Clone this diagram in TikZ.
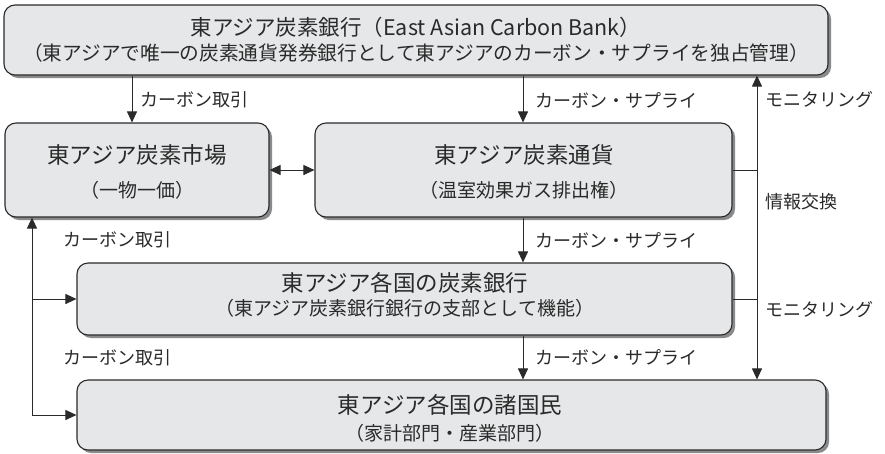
\documentclass[tikz,border=0pt]{standalone}
\usepackage{fontspec}
\setmainfont{Noto Sans CJK JP}
\usetikzlibrary{arrows.meta,shadows}
\definecolor{boxfill}{HTML}{E6E7E8}
\definecolor{shade}{HTML}{8A8A8A}
\definecolor{ink}{HTML}{2A2A2A}
\begin{document}
\begin{tikzpicture}[x=1pt,y=-1pt,
 box/.style={draw=ink, line width=1.1pt, fill=boxfill, rounded corners=11pt, inner sep=0pt,
   drop shadow={shadow xshift=3pt, shadow yshift=-3pt, fill=shade, opacity=1}},
 tip/.tip={Triangle[length=11pt,width=10pt]},
 arr/.style={draw=ink, line width=0.9pt, -tip},
 ln/.style={draw=ink, line width=0.9pt},
 ttl/.style={text=ink, font=\fontsize{22.5}{24}\selectfont, inner sep=0pt},
 subt/.style={text=ink, font=\fontsize{19}{21}\selectfont, inner sep=0pt},
 lbl/.style={text=ink, font=\fontsize{18}{20}\selectfont, inner sep=0pt, anchor=west}]
\useasboundingbox (0,0) rectangle (885,453);

% boxes
\node[box, minimum width=824pt, minimum height=70pt] (top) at (416,40) {};
\node[box, minimum width=264pt, minimum height=94pt] (mkt) at (137,170) {};
\node[box, minimum width=417pt, minimum height=94pt] (cur) at (523.5,170) {};
\node[box, minimum width=655pt, minimum height=72pt] (nbk) at (404.5,299) {};
\node[box, minimum width=749pt, minimum height=70pt] (ppl) at (451.5,415) {};

% box texts
\node[ttl, font=\fontsize{21.5}{23}\selectfont] (topT) at (416,27) {東アジア炭素銀行（East Asian Carbon Bank）};
\node[subt, font=\fontsize{19.7}{21}\selectfont] (topS) at (416,53) {（東アジアで唯一の炭素通貨発券銀行として東アジアのカーボン・サプライを独占管理）};
\node[ttl] (mktT) at (137,155) {東アジア炭素市場};
\node[subt] (mktS) at (137,190) {（一物一価）};
\node[ttl] (curT) at (524,155) {東アジア炭素通貨};
\node[subt] (curS) at (524,190) {（温室効果ガス排出権）};
\node[ttl] (nbkT) at (405,283) {東アジア各国の炭素銀行};
\node[subt] (nbkS) at (405,308) {（東アジア炭素銀行銀行の支部として機能）};
\node[ttl] (pplT) at (450,405) {東アジア各国の諸国民};
\node[subt] (pplS) at (450,433) {（家計部門・産業部門）};

% reference x positions
\coordinate (xA) at (132,0);
\coordinate (xB) at (523,0);
\coordinate (xM) at (757,0);
\coordinate (lb) at (32,415);

% connectors
\draw[arr] (top.south -| xA) -- (mkt.north -| xA);
\draw[arr] (top.south -| xB) -- (cur.north -| xB);
\draw[ln, tip-tip] (top.south -| xM) -- (ppl.north -| xM);
\draw[ln] (cur.east) -- (cur.east -| xM);
\draw[ln] (nbk.east) -- (nbk.east -| xM);
\draw[ln, tip-tip] (mkt.east) -- (cur.west);
\draw[arr] (cur.south -| xB) -- (nbk.north -| xB);
\draw[arr] (nbk.south -| xB) -- (ppl.north -| xB);
\draw[arr] (lb) -- (mkt.south -| lb);
\draw[arr] (nbk.west -| lb) -- (nbk.west);
\draw[arr] (lb) -- (ppl.west);

% labels
\node[lbl] (l1) at (140,100) {カーボン取引};
\node[lbl] (l2) at (535,100) {カーボン・サプライ};
\node[lbl] (l3) at (765,100) {モニタリング};
\node[lbl] (l4) at (765,202) {情報交換};
\node[lbl] (l5) at (63,240) {カーボン取引};
\node[lbl] (l6) at (535,240) {カーボン・サプライ};
\node[lbl] (l7) at (765,310) {モニタリング};
\node[lbl] (l8) at (63,358) {カーボン取引};
\node[lbl] (l9) at (535,357) {カーボン・サプライ};
\end{tikzpicture}
\end{document}
